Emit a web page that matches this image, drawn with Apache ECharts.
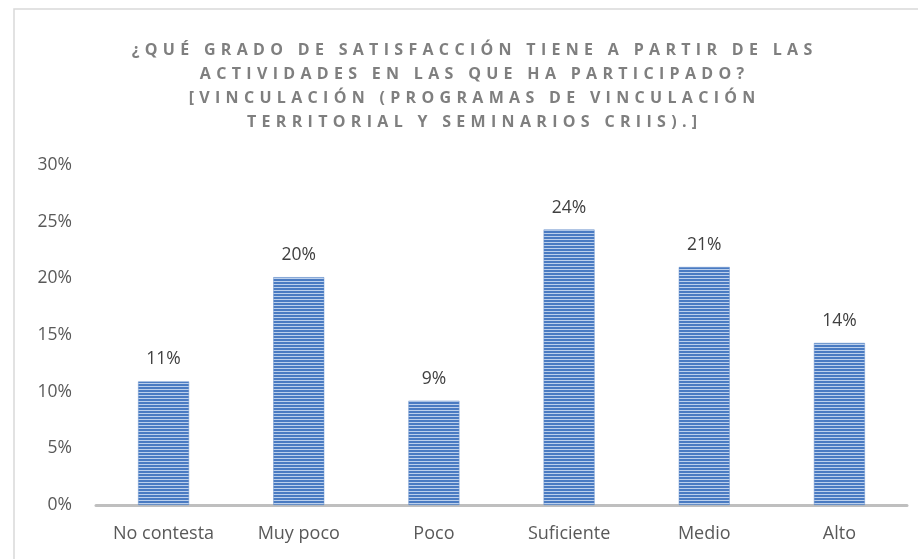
<!DOCTYPE html>
<html>
<head>
    <meta charset="utf-8">
    <title>Grado de satisfacción</title>
    <script src="https://cdn.jsdelivr.net/npm/echarts@6/dist/echarts.min.js"></script>
    <style>
        html, body { margin: 0; padding: 0; background: #fff; }
        #chart { width: 918px; height: 559px; }
    </style>
</head>
<body>
<div id="chart"></div>
<script>
    // datos
    var categorias = ['No contesta', 'Muy poco', 'Poco', 'Suficiente', 'Medio', 'Alto'];
    var valores = [10.9, 20.1, 9.2, 24.3, 21.0, 14.3];
    var ticksY = [0, 5, 10, 15, 20, 25, 30];
    var tituloLineas = [
        '¿QUÉ GRADO DE SATISFACCIÓN TIENE A PARTIR DE LAS',
        'ACTIVIDADES EN LAS QUE HA PARTICIPADO?',
        '[VINCULACIÓN (PROGRAMAS DE VINCULACIÓN',
        'TERRITORIAL Y SEMINARIOS CRIIS).]'
    ];

    // espaciado de letras como en Excel
    function espaciar(s) {
        return s.split('').join('\u2009\u2009');
    }

    // patron de rayas horizontales
    function patronRayas() {
        var c = document.createElement('canvas');
        c.width = 4; c.height = 3;
        var ctx = c.getContext('2d');
        ctx.fillStyle = '#4a7bc2';
        ctx.fillRect(0, 0, 4, 2);
        ctx.fillStyle = '#bcd0ec';
        ctx.fillRect(0, 2, 4, 1);
        return c;
    }

    var $echart = echarts.init(document.getElementById('chart'), null, { renderer: 'canvas' });

    $echart.setOption({
        animation: false,
        title: {
            text: tituloLineas.map(espaciar).join('\n'),
            left: 467,
            top: 33,
            textAlign: 'center',
            textStyle: {
                fontFamily: 'Open Sans',
                fontWeight: 'bold',
                fontSize: 16,
                lineHeight: 24,
                color: '#7f7f7f'
            }
        },
        graphic: [{
            type: 'polyline',
            shape: { points: [[14, 600], [14, 9], [930, 9]] },
            style: { stroke: '#d9d9d9', lineWidth: 1.5, fill: null },
            silent: true
        }],
        grid: {
            left: 96,
            right: 11,
            top: 165,
            bottom: 54
        },
        xAxis: {
            type: 'category',
            data: categorias,
            axisLine: { lineStyle: { color: '#bfbfbf', width: 3 } },
            axisTick: { show: false },
            axisLabel: {
                fontFamily: 'Open Sans',
                fontSize: 18,
                color: '#595959',
                margin: 20,
                interval: 0
            }
        },
        yAxis: {
            type: 'value',
            min: 0,
            max: 30,
            interval: 5,
            axisLine: { show: false },
            axisTick: { show: false },
            splitLine: { show: false },
            axisLabel: {
                fontFamily: 'Open Sans',
                fontSize: 17.5,
                color: '#595959',
                margin: 24,
                formatter: function (v) {
                    return ticksY.indexOf(v) >= 0 ? v + '%' : '';
                }
            }
        },
        series: [{
            type: 'bar',
            data: valores,
            barWidth: 51,
            itemStyle: {
                color: { image: patronRayas(), repeat: 'repeat' },
                borderColor: '#6d95cc',
                borderWidth: 0.5
            },
            label: {
                show: true,
                position: 'top',
                distance: 13,
                fontFamily: 'Open Sans',
                fontSize: 17.5,
                color: '#404040',
                formatter: function (p) {
                    return Math.round(p.value) + '%';
                }
            }
        }]
    });
</script>
</body>
</html>
